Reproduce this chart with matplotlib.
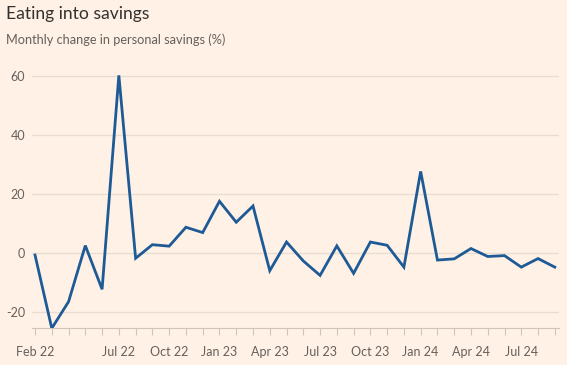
import matplotlib.pyplot as plt

# Données mensuelles, fév. 2022 -> sept. 2024
months = list(range(32))
savings_change = [-0.6, -25.4, -16.4, 2.6, -12.2, 60.2, -1.7, 2.9, 2.4, 8.8, 7.0,
                  17.6, 10.5, 16.0, -5.9, 3.8, -2.6, -7.5, 2.5, -6.8, 3.8, 2.7, -4.7,
                  27.7, -2.3, -1.9, 1.6, -1.1, -0.8, -4.7, -1.8, -4.7]
tick_pos = [0, 5, 8, 11, 14, 17, 20, 23, 26, 29]
tick_labels = ["Feb 22", "Jul 22", "Oct 22", "Jan 23", "Apr 23", "Jul 23",
               "Oct 23", "Jan 24", "Apr 24", "Jul 24"]
y_ticks = [-20, 0, 20, 40, 60]

BG = "#FFF1E5"
plt.rcParams['font.family'] = ['Lato', 'DejaVu Sans']

fig = plt.figure(figsize=(5.67, 3.65), dpi=100, facecolor=BG)
ax = fig.add_axes([32 / 567, 1 - 328 / 365, (559 - 32) / 567, (328 - 68) / 365])
ax.set_facecolor(BG)

ax.plot(months, savings_change, color="#1D5A96", linewidth=2.0,
        solid_joinstyle='miter', zorder=3)

ax.set_xlim(-0.18, 31.25)
ax.set_ylim(-25.3, 62.7)
ax.set_yticks(y_ticks)
ax.set_yticklabels([str(v) for v in y_ticks])
ax.yaxis.grid(True, color="#E9DDD2", linewidth=1)
ax.tick_params(axis='y', length=0, pad=5, labelsize=9, labelcolor="#66605C")

ax.set_xticks(months, minor=True)
ax.set_xticks(tick_pos)
ax.set_xticklabels(tick_labels)
ax.tick_params(axis='x', which='both', direction='out', length=5, width=0.8,
               color="#CEC6B9", labelsize=9, labelcolor="#66605C", pad=8)

for s in ['top', 'right', 'left']:
    ax.spines[s].set_visible(False)
ax.spines['bottom'].set_color("#CEC6B9")
ax.set_axisbelow(True)

fig.text(6 / 567, 1 - 14 / 365, "Eating into savings", fontsize=12.6,
         color="#33302E", va='center', ha='left')
fig.text(6 / 567, 1 - 40 / 365, "Monthly change in personal savings (%)",
         fontsize=9.2, color="#66605C", va='center', ha='left')

fig.savefig("out.png", dpi=100, facecolor=BG)
